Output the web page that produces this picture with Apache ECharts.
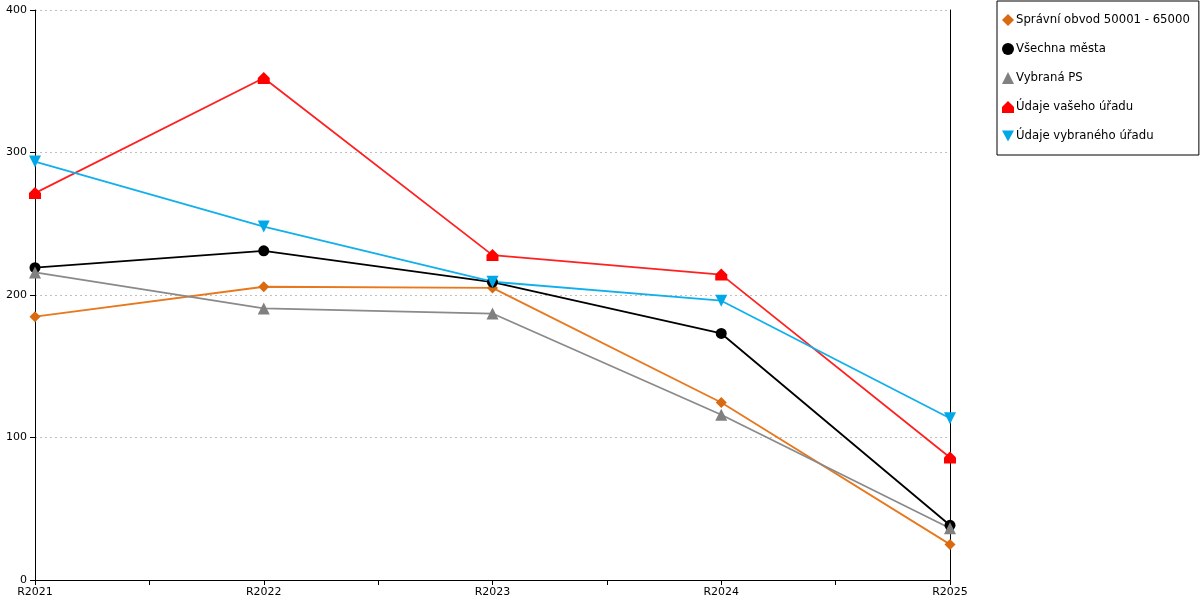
<!DOCTYPE html>
<html><head><meta charset="utf-8">
<script src="https://cdn.jsdelivr.net/npm/echarts@6/dist/echarts.min.js"></script>
<style>html,body{margin:0;padding:0;background:#fff}#c{width:1200px;height:600px}</style>
</head><body><div id="c"></div>
<script>
const categories = ['R2021','R2022','R2023','R2024','R2025'];
const spravniObvod = [184.8, 205.8, 205, 124.6, 25];
const vsechnaMesta = [219.2, 231, 209, 173, 38.4];
const vybranaPS = [215.8, 190.6, 187, 116, 36.3];
const udajeVaseho = [271.5, 352.3, 228, 214.3, 86];
const udajeVybraneho = [293.6, 248, 209.3, 196, 113.5];
const yTicks = [0, 100, 200, 300, 400];

const house = 'path://M5,0 L10,5 L10,10 L0,10 L0,5 Z';
const invTri = 'path://M0,0 L10,0 L5,9 Z';
const font = 'DejaVu Sans';
const toPairs = arr => arr.map((v, i) => [i, v]);

function mk(name, data, color, lineColor, symbol, size) {
  return {
    name, type: 'line', data: toPairs(data), symbol, symbolSize: size,
    itemStyle: { color }, lineStyle: { color: lineColor, width: 1.8 },
    emphasis: { disabled: true }, animation: false
  };
}

const chart = echarts.init(document.getElementById('c'));
chart.setOption({
  animation: false,
  textStyle: { fontFamily: font },
  grid: { left: 35, right: 250, top: 10, bottom: 20, containLabel: false },
  legend: {
    orient: 'vertical', left: 997, top: 1,
    padding: [13, 9, 13, 5], itemGap: 17, itemWidth: 12, itemHeight: 12,
    borderColor: '#000', borderWidth: 1, backgroundColor: '#fff',
    textStyle: { fontFamily: font, fontSize: 11.7, color: '#000', padding: [0, 0, 0, -3] },
    data: [
      { name: 'Správní obvod 50001 - 65000', icon: 'diamond' },
      { name: 'Všechna města', icon: 'circle' },
      { name: 'Vybraná PS', icon: 'triangle' },
      { name: 'Údaje vašeho úřadu', icon: house },
      { name: 'Údaje vybraného úřadu', icon: invTri }
    ]
  },
  xAxis: {
    type: 'value', min: 0, max: categories.length - 1, interval: 0.5,
    axisLine: { lineStyle: { color: '#000', width: 1 } },
    axisTick: { show: true, length: 5, lineStyle: { color: '#000' } },
    splitLine: { show: false },
    axisLabel: {
      color: '#000', fontSize: 11, fontFamily: font, margin: 7,
      showMinLabel: true, showMaxLabel: true, hideOverlap: false,
      formatter: v => (Number.isInteger(v) ? categories[v] : '')
    }
  },
  yAxis: [{
    type: 'value', min: yTicks[0], max: yTicks[yTicks.length - 1], interval: 100,
    axisLine: { show: true, lineStyle: { color: '#000', width: 1 } },
    axisTick: { show: true, length: 5, lineStyle: { color: '#000' } },
    axisLabel: { color: '#000', fontSize: 11, fontFamily: font, margin: 8 },
    splitLine: { show: true, lineStyle: { color: '#c0c0c0', type: [2, 3], width: 1 } }
  }, {
    type: 'value', min: 0, max: 400, position: 'right',
    axisLine: { show: true, lineStyle: { color: '#000', width: 1 } },
    axisTick: { show: false }, axisLabel: { show: false }, splitLine: { show: false }
  }],
  series: [
    mk('Správní obvod 50001 - 65000', spravniObvod, '#D96A10', '#E8781E', 'diamond', 11),
    mk('Všechna města', vsechnaMesta, '#000000', '#000000', 'circle', 11),
    mk('Vybraná PS', vybranaPS, '#808080', '#8a8a8a', 'triangle', 12),
    mk('Údaje vašeho úřadu', udajeVaseho, '#FF0000', '#FF2020', house, 12),
    mk('Údaje vybraného úřadu', udajeVybraneho, '#00A8E8', '#10B0EC', invTri, 12)
  ]
});
</script></body></html>
